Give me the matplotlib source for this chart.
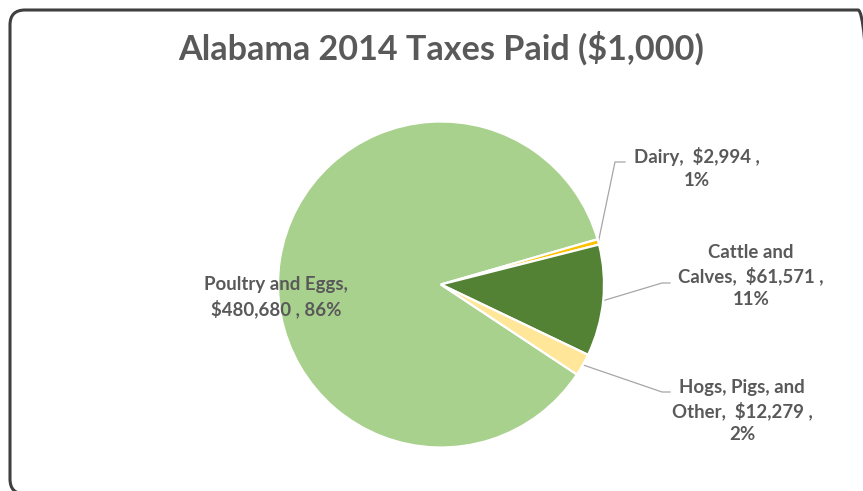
import numpy as np
import matplotlib.pyplot as plt
from matplotlib.patches import FancyBboxPatch

# Alabama 2014 taxes paid, in $1,000
categories = ["Poultry and Eggs", "Dairy", "Cattle and Calves", "Hogs, Pigs, and Other"]
taxes = [480680, 2994, 61571, 12279]
colors = ["#A9D18E", "#FFC000", "#548235", "#FFE699"]

W, H = 863, 491
txt_color = "#595959"
font = "Lato"

fig = plt.figure(figsize=(W / 100, H / 100), dpi=100)
ax = fig.add_axes([0, 0, 1, 1])

cx, cy, r = 441, H - 284.5, 163
wedges, _ = ax.pie(taxes, colors=colors, startangle=-33.5, counterclock=False,
                   center=(cx, cy), radius=r,
                   wedgeprops=dict(edgecolor="white", linewidth=1.6))
ax.set_xlim(0, W)
ax.set_ylim(0, H)
ax.set_aspect("equal")
ax.axis("off")

total = sum(taxes)

def label_text(name, val):
    pct = round(val / total * 100)
    return name, "${:,}".format(val), "{}%".format(pct)

# chart border, rounded corners; right and bottom sides fall just outside
ax.add_patch(FancyBboxPatch((10, -3), 863, H - 10 + 3,
                            boxstyle="round,pad=0,rounding_size=15",
                            fill=False, edgecolor="#3F3F3F", linewidth=2.2, clip_on=False))

ax.text(441, H - 48, "Alabama 2014 Taxes Paid ($1,000)", ha="center", va="center",
        fontsize=24.6, fontweight="bold", color=txt_color, family=font)

lab_kw = dict(ha="center", va="center", fontsize=13.4, fontweight="bold",
              color=txt_color, family=font, linespacing=1.4)

n, v, p = label_text(categories[0], taxes[0])
ax.text(276, H - 297, "Poultry and Eggs,\n{} , {}".format(v, p), **lab_kw)

n, v, p = label_text(categories[1], taxes[1])
ax.text(697, H - 168, "Dairy,  {} ,\n{}".format(v, p), **lab_kw)

n, v, p = label_text(categories[2], taxes[2])
ax.text(751, H - 276, "Cattle and\nCalves,  {} ,\n{}".format(v, p), **lab_kw)

n, v, p = label_text(categories[3], taxes[3])
ax.text(742, H - 411, "Hogs, Pigs, and\nOther,  {} ,\n{}".format(v, p), **lab_kw)

# leader lines from wedge edge to label
elbows = {1: [(615, H - 162), (625, H - 162)],
          2: [(662, H - 283), (670, H - 283)],
          3: [(662, H - 392), (670, H - 392)]}
for i, pts in elbows.items():
    w = wedges[i]
    mid = np.deg2rad((w.theta1 + w.theta2) / 2)
    sx, sy = cx + r * np.cos(mid), cy + r * np.sin(mid)
    xs = [sx] + [p_[0] for p_ in pts]
    ys = [sy] + [p_[1] for p_ in pts]
    ax.plot(xs, ys, color="#A6A6A6", linewidth=0.9, zorder=0)

fig.savefig("out.png", dpi=100, facecolor="white")
